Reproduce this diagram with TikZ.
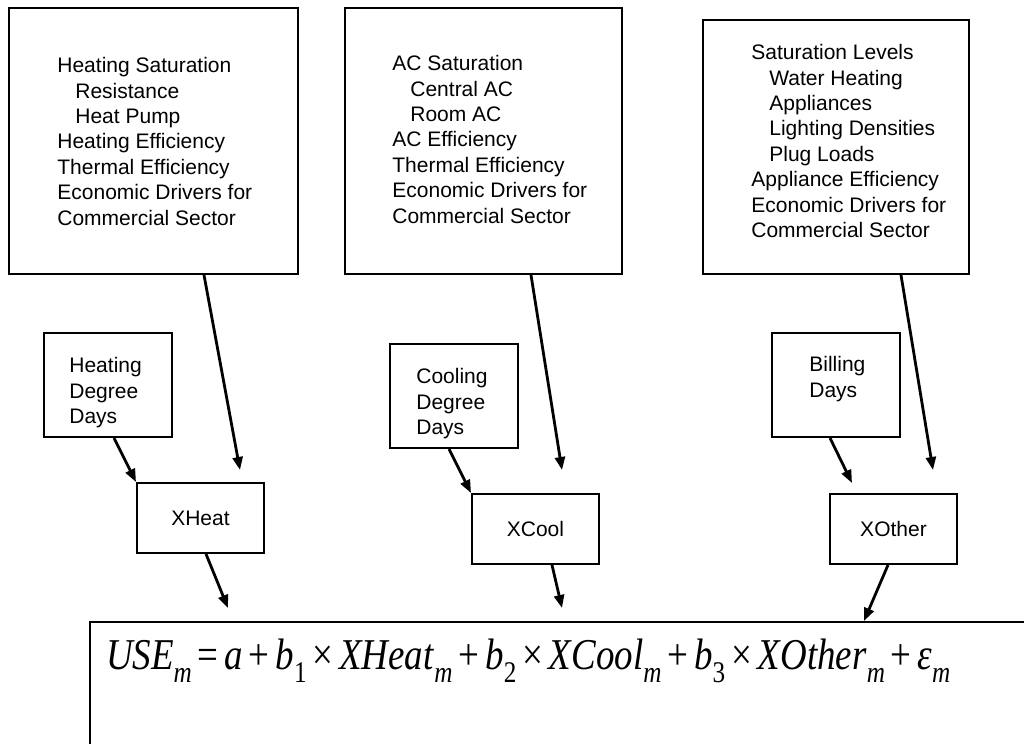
\documentclass[tikz,border=0pt]{standalone}
\usepackage{fontspec}
\usepackage{graphicx}
\setmainfont{Liberation Sans}
\newfontfamily\eqfont{Liberation Serif}
\usetikzlibrary{arrows.meta,positioning}

% indented sub-item in the driver lists
\newcommand{\indentitem}{\hspace*{9pt}}
% italic symbol with a lowered subscript
\newcommand{\isub}[2]{\textit{#1}\raisebox{-6.5pt}{\fontsize{15}{15}\selectfont #2}}

\begin{document}
\begin{tikzpicture}[x=0.5pt, y=-0.5pt,
    font=\fontsize{10.5}{12.7}\selectfont,
    box/.style={draw, rectangle, line width=1pt, anchor=north west},
    bigbox/.style={box, minimum height=133pt},
    daysbox/.style={box, minimum width=64pt, minimum height=52pt},
    xbox/.style={box, minimum width=63.5pt, minimum height=35pt},
    listtext/.style={anchor=north west, inner sep=0pt, align=left},
    arr/.style={-{Triangle[length=6.5pt,width=5pt]}, line width=1.4pt}]
\clip (0,0) rectangle (1024,744);

% Driver boxes
\node[bigbox, minimum width=144.5pt] (heatbox) at (8,7) {};
\node[bigbox, minimum width=138.5pt] (acbox) at (344,7) {};
\node[bigbox, minimum width=133pt, minimum height=127pt] (satbox) at (702,19) {};

\node[listtext] (heatlist) at (57,57) {Heating Saturation\\ \indentitem Resistance\\ \indentitem Heat Pump\\
  Heating Efficiency\\ Thermal Efficiency\\ Economic Drivers for\\ Commercial Sector};
\node[listtext] (aclist) at (392,55) {AC Saturation\\ \indentitem Central AC\\ \indentitem Room AC\\
  AC Efficiency\\ Thermal Efficiency\\ Economic Drivers for\\ Commercial Sector};
\node[listtext] (satlist) at (751,44) {Saturation Levels\\ \indentitem Water Heating\\ \indentitem Appliances\\
  \indentitem Lighting Densities\\ \indentitem Plug Loads\\ Appliance Efficiency\\
  Economic Drivers for\\ Commercial Sector};

% Weather and billing days
\node[daysbox] (hdd) at (43,332) {};
\node[daysbox] (cdd) at (389,343) {};
\node[daysbox] (bill) at (771,332) {};
\node[listtext] (hddtext) at (69,357) {Heating\\ Degree\\ Days};
\node[listtext] (cddtext) at (416,368) {Cooling\\ Degree\\ Days};
\node[listtext] (billtext) at (809,356) {Billing\\ Days};

% Constructed variables
\node[xbox] (xheat) at (136,482) {XHeat};
\node[xbox] (xcool) at (471,493) {XCool};
\node[xbox] (xother) at (829,493) {XOther};

% Regression model
\node[box, inner xsep=8pt, inner ysep=0pt, text width=465pt, align=left,
  text height=23.5pt, text depth=48pt] (eqbox) at (89,621)
  {\eqfont\fontsize{22}{26}\selectfont\scalebox{0.84}[1]{\isub{USE}{\textit{m}} = \textit{a} + \isub{b}{1} × \isub{XHeat}{\textit{m}}
   + \isub{b}{2} × \isub{XCool}{\textit{m}} + \isub{b}{3} × \isub{XOther}{\textit{m}} + \isub{ε}{\textit{m}}}};

% Arrows
\draw[arr] ([xshift=25.25pt]heatbox.south) -- ([xshift=19.75pt, yshift=6pt]xheat.north);
\draw[arr] ([xshift=3pt]hdd.south) -- (xheat.north west);
\draw[arr] ([xshift=2.75pt]xheat.south) -- ([xshift=69.5pt, yshift=6.5pt]eqbox.north west);

\draw[arr] ([xshift=23.75pt]acbox.south) -- ([xshift=13.25pt, yshift=11.5pt]xcool.north);
\draw[arr] ([xshift=-2.5pt]cdd.south) -- (xcool.north west);
\draw[arr] ([xshift=8.25pt]xcool.south) -- ([xshift=236.5pt, yshift=6.5pt]eqbox.north west);

\draw[arr] ([xshift=32.5pt]satbox.south) -- ([xshift=19.75pt, yshift=11.5pt]xother.north);
\draw[arr] ([xshift=-3pt]bill.south) -- ([xshift=11.5pt, yshift=5pt]xother.north west);
\draw[arr] ([xshift=-2.75pt]xother.south) -- ([xshift=387.5pt]eqbox.north west);
\end{tikzpicture}
\end{document}
